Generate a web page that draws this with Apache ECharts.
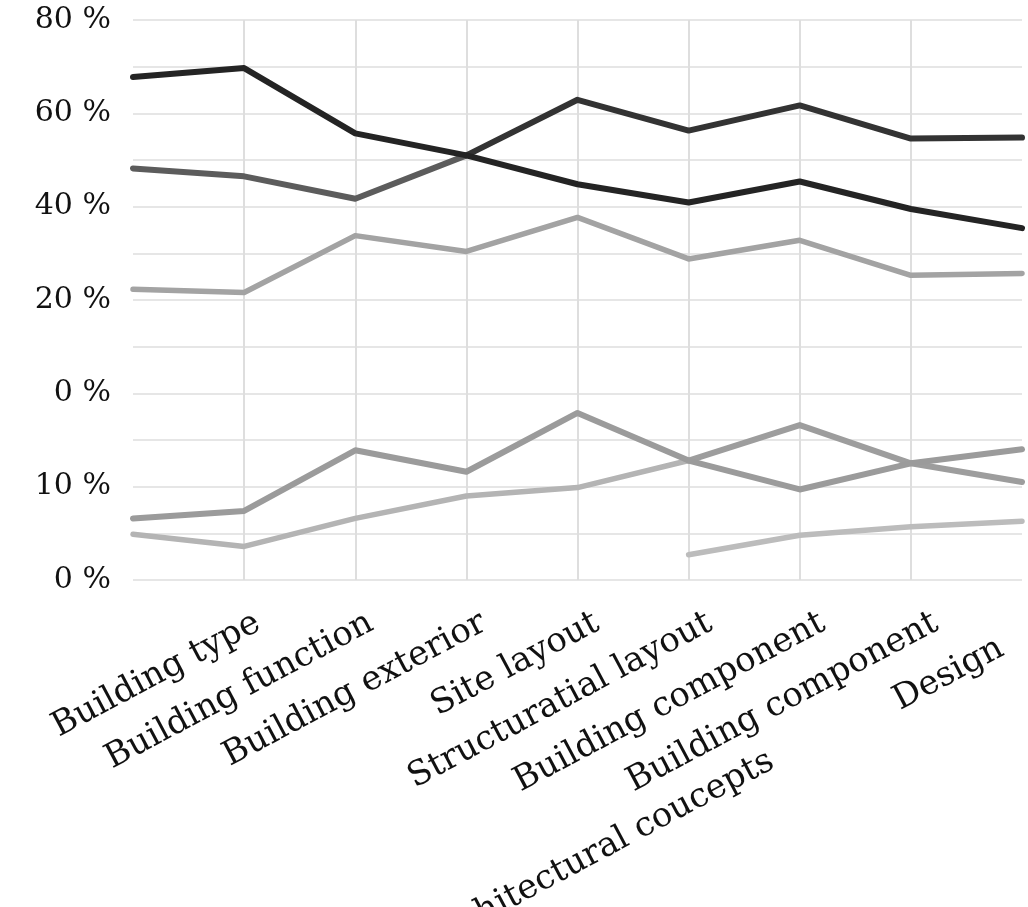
<!DOCTYPE html>
<html>
<head>
<meta charset="utf-8">
<script src="https://cdn.jsdelivr.net/npm/echarts@6/dist/echarts.min.js"></script>
<style>
  html, body { margin: 0; padding: 0; background: #ffffff; }
  #chart { width: 1028px; height: 907px; }
</style>
</head>
<body>
<div id="chart"></div>
<script>
// ---- data ----
const categories = ['', 'Building type', 'Building function', 'Building exterior', 'Site layout',
  'Structuratial layout', 'Building component', 'Building component', 'Design'];
const extraLabels = ['', '', '', '', '', '', 'Architectural coucepts', '', ''];

// upper panel (0 % .. 80 %)
const upperBlack = [67.8, 69.7, 55.7, 51.0, 44.8, 40.9, 45.4, 39.5, 35.4];
const upperDark = [48.2, 46.5, 41.7, 51.0, 62.9, 56.3, 61.7, 54.6, 54.8];
const upperLight = [22.3, 21.6, 33.8, 30.4, 37.7, 28.8, 32.8, 25.3, 25.7];

// lower panel (0 % .. 10 % ..)
const lowerMid = [6.6, 7.4, 13.9, 11.6, 17.9, 12.8, 9.7, 12.5, 14.0];
const lowerLight = [4.9, 3.6, 6.6, 9.0, 9.9, 12.8, 16.6, 12.5, 10.5];
const lowerLightest = [null, null, null, null, null, 2.7, 4.8, 5.7, 6.3];

const upperTickLabels = [0, 20, 40, 60, 80];
const lowerTickLabels = [0, 10];

// index where a line changes its grey shade in the picture
const upperDarkShadeChange = 3;
const lowerLightShadeChange = 5;

// ---- chart ----
const chart = echarts.init(document.getElementById('chart'));
const FONT = 'DejaVu Serif';
const gridColor = '#dedede';
const lastIdx = categories.length - 1;

function part(data, from, to) {
  return data.map((v, i) => (i >= from && i <= to) ? v : null);
}

function line(name, data, color, yIdx, width) {
  return {
    name: name, type: 'line', xAxisIndex: 0, yAxisIndex: yIdx, data: data,
    symbol: 'none', connectNulls: false, animation: false,
    lineStyle: { color: color, width: width || 5, cap: 'round', join: 'round' },
    itemStyle: { color: color }
  };
}

chart.setOption({
  backgroundColor: '#ffffff',
  animation: false,
  grid: [
    { left: 133, right: 6, top: 20, bottom: 327, containLabel: false, outerBoundsMode: 'none' },
    { left: 145, right: -21, top: 20, bottom: 327, containLabel: false, outerBoundsMode: 'none' }
  ],
  xAxis: [
    {
      gridIndex: 0, type: 'category', data: categories, boundaryGap: false, position: 'bottom',
      axisLine: { show: false },
      axisTick: { show: true, length: 17, interval: (i) => i > 0 && i < lastIdx,
        lineStyle: { color: gridColor, width: 2 } },
      axisLabel: { show: false },
      splitLine: { show: true, interval: (i) => i > 0 && i < lastIdx,
        lineStyle: { color: gridColor, width: 2 } }
    },
    {
      gridIndex: 1, type: 'category', data: categories, boundaryGap: false, position: 'bottom',
      axisLine: { show: false }, axisTick: { show: false }, splitLine: { show: false },
      axisLabel: {
        interval: 0, rotate: 28, margin: 41,
        fontFamily: FONT, fontSize: 34, color: '#111',
        formatter: (v, i) => i === lastIdx ? '{end|' + v + '}' : v,
        rich: { end: { fontFamily: FONT, fontSize: 34, color: '#111', padding: [0, 54, 0, 0] } }
      }
    },
    {
      gridIndex: 1, type: 'category', data: extraLabels, boundaryGap: false, position: 'bottom',
      axisLine: { show: false }, axisTick: { show: false }, splitLine: { show: false },
      axisLabel: {
        interval: 0, rotate: 28, margin: 152, padding: [0, 58, 0, 0],
        fontFamily: FONT, fontSize: 34, color: '#111'
      }
    }
  ],
  yAxis: [
    {
      gridIndex: 0, type: 'value', min: -40, max: 80, interval: 10, position: 'left',
      axisLine: { show: false }, axisTick: { show: false },
      splitLine: { show: true, lineStyle: { color: gridColor, width: 1.5 } },
      axisLabel: {
        margin: 22, fontFamily: FONT, fontSize: 30, color: '#111',
        formatter: (v) => upperTickLabels.indexOf(v) >= 0 ? v + ' %' : ''
      }
    },
    {
      gridIndex: 0, type: 'value', min: 0, max: 60, interval: 10, position: 'left',
      axisLine: { show: false }, axisTick: { show: false }, splitLine: { show: false },
      axisLabel: {
        margin: 22, fontFamily: FONT, fontSize: 30, color: '#111',
        formatter: (v) => lowerTickLabels.indexOf(v) >= 0 ? v + ' %' : ''
      }
    },
    { gridIndex: 1, type: 'value', show: false, min: 0, max: 1 }
  ],
  series: [
    line('upperLight', upperLight, '#a3a3a3', 0, 5.5),
    line('upperDark (left)', part(upperDark, 0, upperDarkShadeChange), '#5c5c5c', 0, 6),
    line('upperDark (right)', part(upperDark, upperDarkShadeChange, lastIdx), '#333333', 0, 6),
    line('upperBlack', upperBlack, '#242424', 0, 6),
    line('lowerLightest', lowerLightest, '#bcbcbc', 1, 5.5),
    line('lowerLight (left)', part(lowerLight, 0, lowerLightShadeChange), '#b4b4b4', 1, 5.5),
    line('lowerLight (right)', part(lowerLight, lowerLightShadeChange, lastIdx), '#9d9d9d', 1, 6),
    line('lowerMid', lowerMid, '#9b9b9b', 1, 6)
  ]
});
</script>
</body>
</html>
